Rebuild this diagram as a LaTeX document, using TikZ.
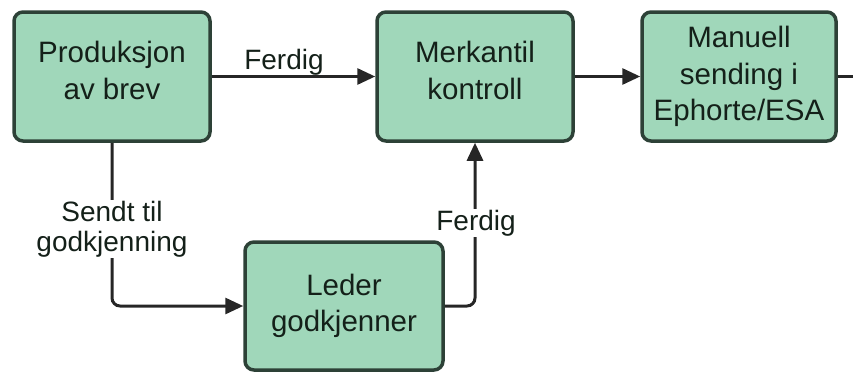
\documentclass[tikz,border=0pt]{standalone}
\usepackage{fontspec}
\setmainfont{Liberation Sans}
\usetikzlibrary{arrows.meta}
\definecolor{boxfill}{RGB}{160,215,186}
\definecolor{boxline}{RGB}{45,65,55}
\definecolor{txt}{RGB}{20,32,25}
\begin{document}
\begin{tikzpicture}[x=1pt,y=-1pt,
  box/.style={draw=boxline, line width=3.5pt, fill=boxfill, rounded corners=9pt,
    minimum width=196pt, minimum height=129pt, align=center,
    font=\fontsize{29.5}{36.5}\selectfont, text=txt, inner sep=0pt},
  conn/.style={line width=3pt, draw=black!85, rounded corners=8pt,
    -{Triangle[length=18pt,width=16pt]}},
  lbl/.style={fill=white, align=center, font=\fontsize{28}{30}\selectfont,
    text=txt, inner sep=1pt}]
\useasboundingbox (0,0) rectangle (853,375);
\node[box, text depth=12pt] (b1) at (112,76.5) {Produksjon\\av brev};
\node[box, text depth=12pt] (b2) at (475,76.5) {Merkantil\\kontroll};
\node[box, minimum width=194pt] (b3) at (739,76.5) {Manuell\\sending i\\Ephorte/ESA};
\node[box, minimum width=198pt, minimum height=128pt] (b4) at (344,306) {Leder\\godkjenner};
\coordinate (ex) at (853,76.5);
\draw[conn] (b1.east) -- (b2.west);
\node[lbl, fill=none] (f1) at (284,62) {Ferdig};
\draw[conn] (b2.east) -- (b3.west);
\draw[line width=3pt, draw=black!85] (b3.east) -- (ex);
\draw[conn] (b1.south) |- (b4.west);
\node[lbl] (s1) at (112,229) {Sendt til\\godkjenning};
\draw[conn] (b4.east) -| (b2.south);
\node[lbl] (f2) at (476,223) {Ferdig};
\end{tikzpicture}
\end{document}
